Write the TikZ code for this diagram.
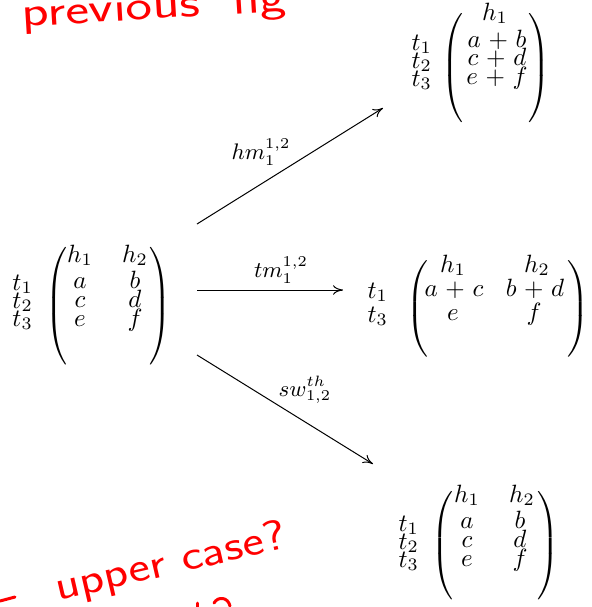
\documentclass[tikz,border=0pt]{standalone}
\usetikzlibrary{arrows.meta}
\newcommand\plft[1]{\scalebox{1}[#1]{$\delimitershortfall=0pt\delimiterfactor=1000\nulldelimiterspace=0pt\left(\vcenter{\hbox{\vrule height 40pt width 0pt}}\right.$}}
\newcommand\prgt[1]{\scalebox{1}[#1]{$\delimitershortfall=0pt\delimiterfactor=1000\nulldelimiterspace=0pt\left.\vcenter{\hbox{\vrule height 40pt width 0pt}}\right)$}}
\newcommand\wsum[1]{$\medmuskip=5.5mu #1$}
\tikzset{
  ent/.style={anchor=base, inner sep=0pt},
  rowlab/.style={anchor=base west, inner sep=0pt},
  parn/.style={inner sep=0pt},
  arr/.style={-{To[length=4pt,width=3.8pt]}, line width=0.4pt},
  alab/.style={font=\fontsize{8.6}{10}\selectfont, inner sep=0pt},
  hand/.style={red, inner sep=0pt, anchor=base west},
  handline/.style={red, line width=1.2pt, line cap=round}
}
\begin{document}
\begin{tikzpicture}[x=0.4pt,y=-0.4pt]
\useasboundingbox (0,0) rectangle (592,607);
\clip (0,0) rectangle (592,607);

% ---------- left matrix ----------
\node[rowlab] (m0t1) at (12,290) {$t_1$};
\node[rowlab] (m0t2) at (12,308) {$t_2$};
\node[rowlab] (m0t3) at (12,326) {$t_3$};
\node[parn] (m0l) at (56,306) {\plft{1.124}};
\node[ent] (m0h1) at (80,262) {$h_1$};
\node[ent] (m0h2) at (135,262) {$h_2$};
\node[ent] (m0a) at (80,288) {$a$};
\node[ent] (m0b) at (135,288) {$b$};
\node[ent] (m0c) at (80,307) {$c$};
\node[ent] (m0d) at (135,307) {$d$};
\node[ent] (m0e) at (80,326) {$e$};
\node[ent] (m0f) at (135,326) {$f$};
\node[parn] (m0r) at (160,306) {\prgt{1.124}};

% ---------- top right matrix ----------
\node[rowlab] (m1t1) at (411,50) {$t_1$};
\node[rowlab] (m1t2) at (411,68) {$t_2$};
\node[rowlab] (m1t3) at (411,86) {$t_3$};
\node[parn] (m1l) at (452,68) {\plft{1.048}};
\node[ent] (m1h1) at (495,20) {$h_1$};
\node[ent] (m1r1) at (497,47) {\wsum{a+b}};
\node[ent] (m1r2) at (497,65.5) {\wsum{c+d}};
\node[ent] (m1r3) at (497,84) {\wsum{e+f}};
\node[parn] (m1r) at (539,68) {\prgt{1.048}};

% ---------- middle right matrix ----------
\node[rowlab] (m2t1) at (367,298) {$t_1$};
\node[rowlab] (m2t3) at (367,322) {$t_3$};
\node[parn] (m2l) at (417,309) {\plft{0.924}};
\node[ent] (m2h1) at (453,272) {$h_1$};
\node[ent] (m2h2) at (537,272) {$h_2$};
\node[ent] (m2ac) at (454,296) {\wsum{a+c}};
\node[ent] (m2bd) at (535,296) {\wsum{b+d}};
\node[ent] (m2e) at (453,320) {$e$};
\node[ent] (m2f) at (534,320) {$f$};
\node[parn] (m2r) at (578,309) {\prgt{0.924}};

% ---------- bottom right matrix ----------
\node[rowlab] (m3t1) at (398,531) {$t_1$};
\node[rowlab] (m3t2) at (398,549) {$t_2$};
\node[rowlab] (m3t3) at (398,567) {$t_3$};
\node[parn] (m3l) at (442,546) {\plft{1.03}};
\node[ent] (m3h1) at (467,502) {$h_1$};
\node[ent] (m3h2) at (522,502) {$h_2$};
\node[ent] (m3a) at (467,528) {$a$};
\node[ent] (m3b) at (520,528) {$b$};
\node[ent] (m3c) at (467,547) {$c$};
\node[ent] (m3d) at (520,547) {$d$};
\node[ent] (m3e) at (467,566) {$e$};
\node[ent] (m3f) at (520,566) {$f$};
\node[parn] (m3r) at (548,546) {\prgt{1.03}};

% ---------- arrows ----------
\coordinate (a1s) at (197,224);
\coordinate (a1e) at (383,108);
\coordinate (a2s) at (197,290);
\coordinate (a2e) at (343,290);
\coordinate (a3s) at (197,355);
\coordinate (a3e) at (373,464);
\draw[arr] (a1s) -- (a1e);
\draw[arr] (a2s) -- (a2e);
\draw[arr] (a3s) -- (a3e);
\node[alab] (l1) at (261,152) {$hm_1^{1,2}$};
\node[alab] (l2) at (281,270) {$tm_1^{1,2}$};
\node[alab] (l3) at (305,390) {$sw_{1,2}^{th}$};

% ---------- red handwritten notes ----------
\node[hand, rotate=3.5, font=\sffamily\fontsize{17}{20}\selectfont] (n1) at (22,27) {\scalebox{1.33}[1]{previous\hspace{0.55em}fig}};
\node[hand, rotate=13, font=\sffamily\fontsize{17}{20}\selectfont] (n2) at (58,601) {\scalebox{1.2}[1]{upper case?}};
\coordinate (d1) at (0,601);
\coordinate (d2) at (15,597);
\draw[handline] (d1) -- (d2);
\coordinate (q1) at (197,603);
\coordinate (q2) at (197,607);
\draw[handline] (q1) -- (q2);
\coordinate (q3) at (214,603);
\coordinate (q4) at (230,606);
\draw[handline] (q3) .. controls (218,596) and (228,597) .. (q4);
\end{tikzpicture}
\end{document}
